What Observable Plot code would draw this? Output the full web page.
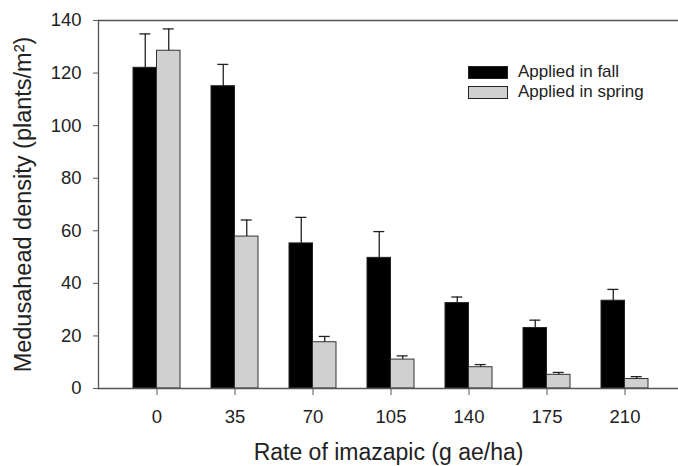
<!DOCTYPE html>
<html>
<head>
<meta charset="utf-8">
<script src="https://cdn.jsdelivr.net/npm/d3@7"></script>
<script src="https://cdn.jsdelivr.net/npm/@observablehq/plot@0.6"></script>
<style>
  html, body { margin: 0; padding: 0; background: #fff; }
  #chart { position: relative; width: 678px; height: 466px; }
  .legend { position: absolute; left: 468px; top: 62px; font-family: "Liberation Sans", Arial, sans-serif; font-size: 17px; color: #222; }
  .legend div { display: flex; align-items: center; height: 20px; }
  .legend span.sw { display: inline-block; width: 38px; height: 11px; margin-right: 10px; border: 1px solid #222; }
</style>
</head>
<body>
<div id="chart"></div>
<script>
const rates = ["0", "35", "70", "105", "140", "175", "210"];
const fallMean = [122, 115, 55.2, 49.7, 32.5, 23.0, 33.4];
const fallErr = [12.9, 8.3, 9.9, 10.0, 2.3, 3.0, 4.3];
const springMean = [128.5, 57.8, 17.6, 11.0, 8.1, 5.2, 3.6];
const springErr = [8.3, 6.3, 2.2, 1.4, 1.0, 0.9, 0.9];
const yTicks = [0, 20, 40, 60, 80, 100, 120, 140];
const seriesNames = ["Applied in fall", "Applied in spring"];
const seriesColors = ["#000000", "#d0d0d0"];

const data = rates.map((r, i) => ({
  rate: r,
  fall: fallMean[i], fallHi: fallMean[i] + fallErr[i],
  spring: springMean[i], springHi: springMean[i] + springErr[i]
}));

const font = "'Liberation Sans', Arial, sans-serif";
const half = 23.5;

const chart = Plot.plot({
  width: 678,
  height: 466,
  marginLeft: 98,
  marginRight: 0,
  marginTop: 20,
  marginBottom: 78,
  style: { fontFamily: font, color: "#222", background: "#fff" },
  x: { type: "band", domain: rates, range: [98, 682], paddingInner: 0.4, paddingOuter: 0.425 },
  y: { domain: [0, 140] },
  marks: [
    Plot.barY(data, { x: "rate", y: "fall", insetRight: half, fill: seriesColors[0], stroke: "#222", strokeWidth: 1 }),
    Plot.barY(data, { x: "rate", y: "spring", insetLeft: half, fill: seriesColors[1], stroke: "#333", strokeWidth: 1 }),
    Plot.ruleX(data, { x: "rate", y1: "fall", y2: "fallHi", dx: -half / 2, stroke: "#222", strokeWidth: 1.3 }),
    Plot.ruleX(data, { x: "rate", y1: "spring", y2: "springHi", dx: half / 2, stroke: "#222", strokeWidth: 1.3 }),
    Plot.tickY(data, { x: "rate", y: "fallHi", insetLeft: 6.3, insetRight: 29.7, stroke: "#222", strokeWidth: 1.3 }),
    Plot.tickY(data, { x: "rate", y: "springHi", insetLeft: 29.7, insetRight: 6.3, stroke: "#222", strokeWidth: 1.3 }),
    Plot.ruleY([0, 140], { stroke: "#555", strokeWidth: 1.3 }),
    Plot.frame({ anchor: "left", stroke: "#555", strokeWidth: 1.3 }),
    Plot.axisY({ ticks: yTicks, tickSize: 5, tickPadding: 12, fontSize: 18.5, label: null, stroke: "#555" }),
    Plot.axisX({ tickSize: 7, tickPadding: 14, fontSize: 18.5, label: null, stroke: "#555" }),
    Plot.text(["Medusahead density (plants/m²)"], { frameAnchor: "left", textAnchor: "middle", lineAnchor: "middle", rotate: -90, dx: -75.5, fontSize: 23.5, fill: "#222" }),
    Plot.text(["Rate of imazapic (g ae/ha)"], { frameAnchor: "bottom", textAnchor: "middle", lineAnchor: "bottom", dy: 71, fontSize: 23, fill: "#222" })
  ]
});

const container = document.getElementById("chart");
container.appendChild(chart);

const legend = document.createElement("div");
legend.className = "legend";
seriesNames.forEach((name, i) => {
  const row = document.createElement("div");
  const sw = document.createElement("span");
  sw.className = "sw";
  sw.style.background = seriesColors[i];
  row.appendChild(sw);
  row.appendChild(document.createTextNode(name));
  legend.appendChild(row);
});
container.appendChild(legend);
</script>
</body>
</html>
